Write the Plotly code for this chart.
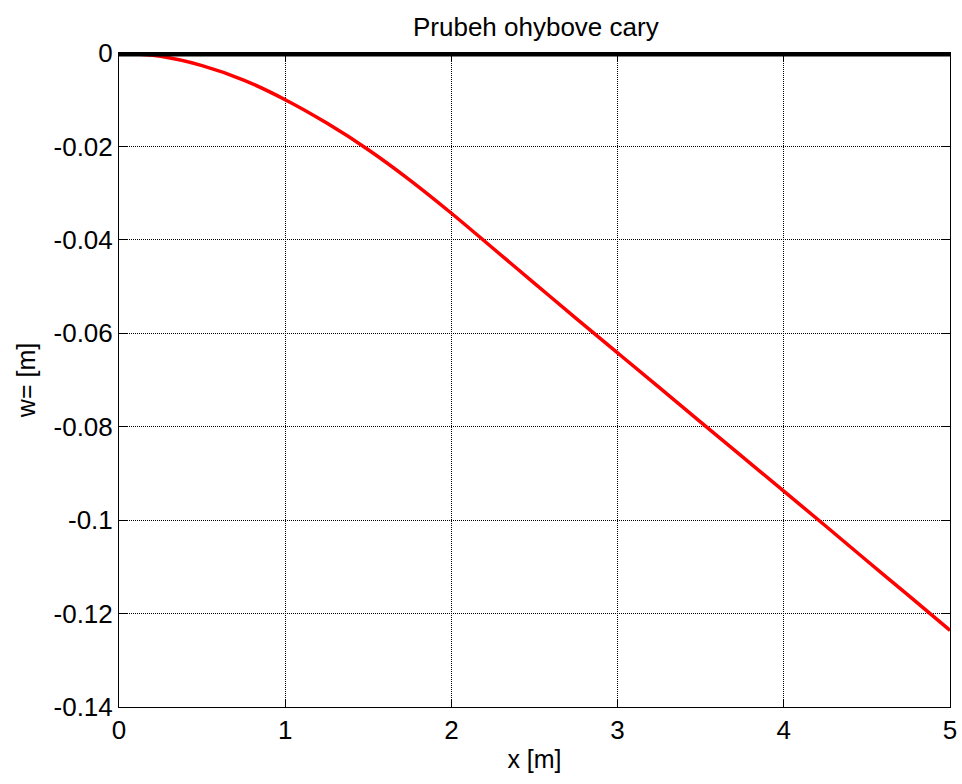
import plotly.graph_objects as go

# Data
x_vals = [0, 0.25, 0.5, 0.75, 1.0, 1.25, 1.5, 1.75, 2.0, 2.25, 2.5, 2.75,
          3.0, 3.25, 3.5, 3.75, 4.0, 4.25, 4.5, 4.75, 5.0]
w_vals = [0, -0.0007, -0.0027, -0.0058, -0.0100, -0.0150, -0.0207, -0.0272,
          -0.0343, -0.0418, -0.0493, -0.0568, -0.0642, -0.0716, -0.0790,
          -0.0864, -0.0938, -0.1012, -0.1087, -0.1161, -0.1236]
beam_x = [0, 5]
beam_y = [0, 0]

x_ticks = [0, 1, 2, 3, 4, 5]
y_ticks = [0, -0.02, -0.04, -0.06, -0.08, -0.1, -0.12, -0.14]
y_tick_text = ["0", "-0.02", "-0.04", "-0.06", "-0.08", "-0.1", "-0.12", "-0.14"]

FONT = "Liberation Sans, Arial, sans-serif"

fig = go.Figure()
fig.add_trace(go.Scatter(x=x_vals, y=w_vals, mode="lines",
                         line=dict(color="#ff0000", width=3.5, shape="spline"),
                         showlegend=False))
fig.add_trace(go.Scatter(x=beam_x, y=beam_y, mode="lines",
                         line=dict(color="black", width=7),
                         showlegend=False))

axis_common = dict(
    showline=True, linecolor="black", linewidth=1, mirror="ticks",
    ticks="inside", ticklen=8, tickcolor="black", tickwidth=1,
    showgrid=True, gridcolor="black", gridwidth=1, griddash="1px,1px",
    zeroline=False, automargin=False,
    tickfont=dict(family=FONT, size=26, color="black"),
)

fig.update_xaxes(range=[0, 5], tickvals=x_ticks,
                 title=dict(text="x [m]", font=dict(family=FONT, size=25, color="black"), standoff=6),
                 **axis_common)
fig.update_yaxes(range=[-0.14, 0], tickvals=y_ticks, ticktext=y_tick_text,
                 title=dict(text="w= [m]", font=dict(family=FONT, size=25, color="black"), standoff=10),
                 **axis_common)

fig.update_layout(
    width=962, height=784,
    margin=dict(l=119, r=12, t=53, b=77, autoexpand=False),
    plot_bgcolor="white", paper_bgcolor="white",
    title=dict(text="Prubeh ohybove cary", x=0.557, xanchor="center",
               y=0.966, yanchor="middle",
               font=dict(family=FONT, size=26, color="black")),
)

fig.write_html("out.html")
